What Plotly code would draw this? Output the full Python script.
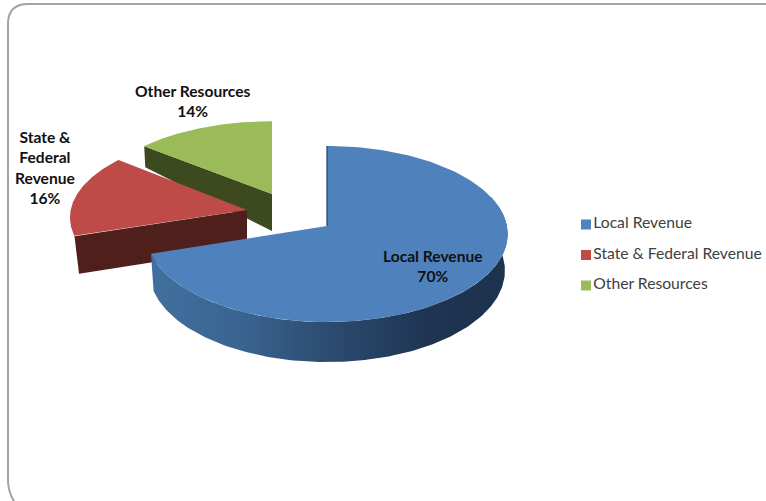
import numpy as np
import plotly.graph_objects as go

# Data
categories = ["Local Revenue", "State & Federal Revenue", "Other Resources"]
values = [70, 16, 14]
wrapped_labels = ["Local Revenue", "State &<br>Federal<br>Revenue", "Other Resources"]

# Styles / geometry of the 3-D projection (pixels)
top_colors = ["#4F81BD", "#BE4B48", "#9BBB59"]
side_colors = ["#3E6A9E", "#4F1F1C", "#3D4A20"]
apexes = [(327, 226), (247, 210), (272, 194)]
yscale = [1.0, 0.95, 0.91]
xscale = [1.005, 0.985, 0.98]
R, B, K = 179.0, 87.3, 0.0909
DEPTH = 36.4
SHRINK = 0.985
label_pos = [(433, 266), (45, 167), (193, 101)]
legend_x, legend_y = [586, 586, 586], [224.5, 255, 285.5]
FONT = "Lato, Carlito, Calibri, sans-serif"


def project(theta, apex, ys, xs=1.0, extrude=False):
    """theta: radians clockwise from 12 o'clock, disc radius 1."""
    u, v = np.sin(theta), np.cos(theta) * -1
    s = 1 / (1 - K * v)
    x = R * xs * u * s
    y = B * ys * v * s
    if extrude:
        return apex[0] + x * SHRINK, apex[1] + y + DEPTH * s
    return apex[0] + x, apex[1] + y


fig = go.Figure()


def poly(xs, ys, color=None, gradient=None):
    kw = dict(fill="toself", mode="lines", line=dict(width=0), showlegend=False, hoverinfo="skip")
    if gradient:
        kw["fillgradient"] = gradient
    else:
        kw["fillcolor"] = color
    fig.add_trace(go.Scatter(x=list(xs), y=list(ys), **kw))


total = sum(values)
edges = np.cumsum([0] + values) / total * 2 * np.pi
spans = [(edges[i], edges[i + 1]) for i in range(len(values))]

# Draw from the back slice to the front slice
for i in [2, 1, 0]:
    a0, a1 = spans[i]
    apex, ys, xs = apexes[i], yscale[i], xscale[i]
    th = np.linspace(a0, a1, 160)
    tx, ty = project(th, apex, ys, xs)

    if i == 0:
        # outer wall of the big slice, with a left-to-right shading
        wall = np.linspace(np.radians(70), a1, 200)
        x0, y0 = project(wall, apex, ys, xs)
        x1, y1 = project(wall, apex, ys, xs, extrude=True)
        grad = dict(type="horizontal", start=150, stop=510,
                    colorscale=[[0, "#41709F"], [0.25, "#3A6491"], [0.5, "#2C4B70"],
                                [0.78, "#1E3451"], [1, "#1C324D"]])
        poly(np.r_[x0, x1[::-1]], np.r_[y0, y1[::-1]], gradient=grad)
    else:
        # cut face towards the viewer
        fx, fy = project(np.array([a0]), apex, ys, xs)
        if i == 1:
            bx, by = project(np.array([a0]), apex, ys, xs, extrude=True)
            d = by[0] - fy[0]
            poly([fx[0], bx[0] + 2, apex[0], apex[0]], [fy[0], by[0], apex[1] + d, apex[1]], side_colors[i])
        else:
            poly([fx[0], fx[0] + 1, apex[0], apex[0]], [fy[0], fy[0] + 21, apex[1] + 37, apex[1]], side_colors[i])

    poly(np.r_[apex[0], tx, apex[0]], np.r_[apex[1], ty, apex[1]], top_colors[i])

# dark edge of the big slice's vertical cut
tx0, ty0 = project(np.array([spans[0][0]]), apexes[0], 1.0)
fig.add_trace(go.Scatter(x=[tx0[0], apexes[0][0]], y=[ty0[0], apexes[0][1]], mode="lines",
                         line=dict(color="#26405F", width=1.2), showlegend=False, hoverinfo="skip"))

# Legend
fig.add_trace(go.Scatter(
    x=legend_x, y=legend_y, mode="markers+text", text=categories, textposition="middle right",
    marker=dict(symbol="square", size=10, color=top_colors),
    textfont=dict(family=FONT, size=15.7, color="#404040"),
    showlegend=False, hoverinfo="skip"))

# Data labels
for i, (lbl, v) in enumerate(zip(wrapped_labels, values)):
    fig.add_annotation(x=label_pos[i][0], y=label_pos[i][1], text=f"<b>{lbl}<br>{round(v / total * 100)}%</b>",
                       showarrow=False, align="center",
                       font=dict(family=FONT, size=15.6, color="#111111"))

fig.update_layout(
    width=766, height=501, margin=dict(l=0, r=0, t=0, b=0),
    paper_bgcolor="white", plot_bgcolor="white", autosize=False,
    xaxis=dict(range=[0, 766], visible=False, fixedrange=True),
    yaxis=dict(range=[501, 0], visible=False, fixedrange=True),
    shapes=[dict(type="path", xref="x", yref="y",
                 path="M 15,503 Q 8,492 8,480 L 8,24 Q 8,4 28,4 L 768,4",
                 line=dict(color="#A3A3A3", width=2))],
)
fig.write_html("out.html", config=dict(displayModeBar=False),
               post_script="document.body.style.margin='0';document.documentElement.style.overflow='hidden';")
